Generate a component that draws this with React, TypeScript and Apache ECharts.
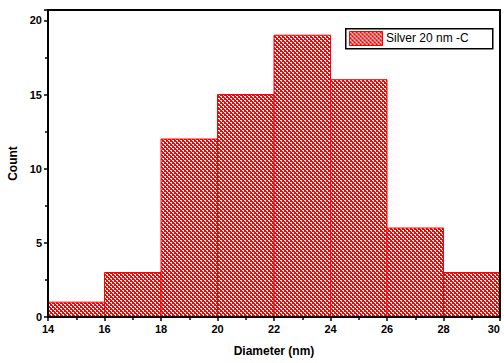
import React, { useEffect, useRef } from "react";
import * as echarts from "echarts";

const binStarts = [14, 16, 18, 20, 22, 24, 26, 28];
const binEnds = [16, 18, 20, 22, 24, 26, 28, 30];
const counts = [1, 3, 12, 15, 19, 16, 6, 3];
const xTicks = [14, 16, 18, 20, 22, 24, 26, 28, 30];
const seriesName = "Silver 20 nm -C";

function makePattern() {
  const c = document.createElement("canvas");
  c.width = 4;
  c.height = 4;
  const ctx = c.getContext("2d")!;
  ctx.fillStyle = "#ff0000";
  ctx.fillRect(0, 0, 4, 4);
  ctx.fillStyle = "#ffffff";
  for (let y = 0; y < 4; y++) {
    ctx.fillRect(y % 4, y, 1, 1);
    if (y % 2 === 0) ctx.fillRect((y + 1) % 4, y, 1, 1);
  }
  return { image: c, repeat: "repeat" } as any;
}

export default function App() {
  const ref = useRef<HTMLDivElement>(null);
  useEffect(() => {
    const chart = echarts.init(ref.current!, undefined, { renderer: "svg" });
    const pattern = makePattern();
    const data = binStarts.map((s, i) => [s, binEnds[i], counts[i]]);
    const font = "Liberation Sans, Arial, sans-serif";
    chart.setOption({
      animation: false,
      backgroundColor: "#ffffff",
      grid: { left: 48, right: 4, top: 10, bottom: 46, outerBoundsMode: "none", containLabel: false },
      xAxis: [
        {
          type: "value",
          min: xTicks[0],
          max: xTicks[xTicks.length - 1],
          interval: 2,
          z: 5,
          name: "Diameter (nm)",
          nameLocation: "middle",
          nameGap: 28,
          nameTextStyle: { fontFamily: font, fontWeight: "bold", fontSize: 12, color: "#000" },
          axisLine: { show: true, onZero: false, lineStyle: { color: "#000", width: 2 } },
          axisTick: { show: true, length: 4, lineStyle: { color: "#000", width: 1.5 } },
          minorTick: { show: true, splitNumber: 2, length: 3, lineStyle: { color: "#000", width: 1.5 } },
          axisLabel: {
            fontFamily: font,
            fontWeight: "bold",
            fontSize: 11,
            color: "#000",
            margin: 6,
            alignMaxLabel: "right",
          },
          splitLine: { show: false },
        },
        {
          type: "value",
          position: "top",
          min: xTicks[0],
          max: xTicks[xTicks.length - 1],
          z: 5,
          axisLine: { show: true, onZero: false, lineStyle: { color: "#000", width: 2 } },
          axisTick: { show: false },
          axisLabel: { show: false },
          splitLine: { show: false },
        },
      ],
      yAxis: [
        {
          type: "value",
          min: 0,
          max: 20.7,
          interval: 5,
          z: 5,
          name: "Count",
          nameLocation: "middle",
          nameGap: 29,
          nameTextStyle: { fontFamily: font, fontWeight: "bold", fontSize: 12, color: "#000" },
          axisLine: { show: true, onZero: false, lineStyle: { color: "#000", width: 2 } },
          axisTick: { show: true, length: 4, lineStyle: { color: "#000", width: 1.5 } },
          minorTick: { show: true, splitNumber: 2, length: 3, lineStyle: { color: "#000", width: 1.5 } },
          axisLabel: {
            fontFamily: font,
            fontWeight: "bold",
            fontSize: 11,
            color: "#000",
            margin: 6,
            formatter: (v: number) => (v % 5 === 0 ? String(v) : ""),
          },
          splitLine: { show: false },
        },
        {
          type: "value",
          position: "right",
          min: 0,
          max: 20.7,
          z: 5,
          axisLine: { show: true, onZero: false, lineStyle: { color: "#000", width: 2 } },
          axisTick: { show: false },
          axisLabel: { show: false },
          splitLine: { show: false },
        },
      ],
      series: [
        {
          type: "custom",
          name: seriesName,
          xAxisIndex: 0,
          yAxisIndex: 0,
          data,
          renderItem: (params: any, api: any) => {
            const p0 = api.coord([api.value(0), api.value(2)]);
            const p1 = api.coord([api.value(1), 0]);
            return {
              type: "rect",
              shape: { x: p0[0], y: p0[1], width: p1[0] - p0[0], height: p1[1] - p0[1] },
              style: { fill: pattern, stroke: "#ff0000", lineWidth: 1 },
            };
          },
        },
      ],
      graphic: [
        {
          type: "rect",
          left: 345,
          top: 28,
          shape: { width: 147, height: 20 },
          style: { fill: "#fff", stroke: "#000", lineWidth: 1.5 },
          z: 10,
        },
        {
          type: "rect",
          left: 349,
          top: 31,
          shape: { width: 33, height: 14 },
          style: { fill: pattern, stroke: "#ff0000", lineWidth: 1 },
          z: 11,
        },
        {
          type: "text",
          left: 386,
          top: 32,
          style: { text: seriesName, fontFamily: font, fontSize: 12, fill: "#000" },
          z: 11,
        },
      ],
    });
    return () => chart.dispose();
  }, []);
  return (
    <div
      ref={ref}
      style={{ position: "fixed", left: 0, top: 0, width: 504, height: 363 }}
    />
  );
}
